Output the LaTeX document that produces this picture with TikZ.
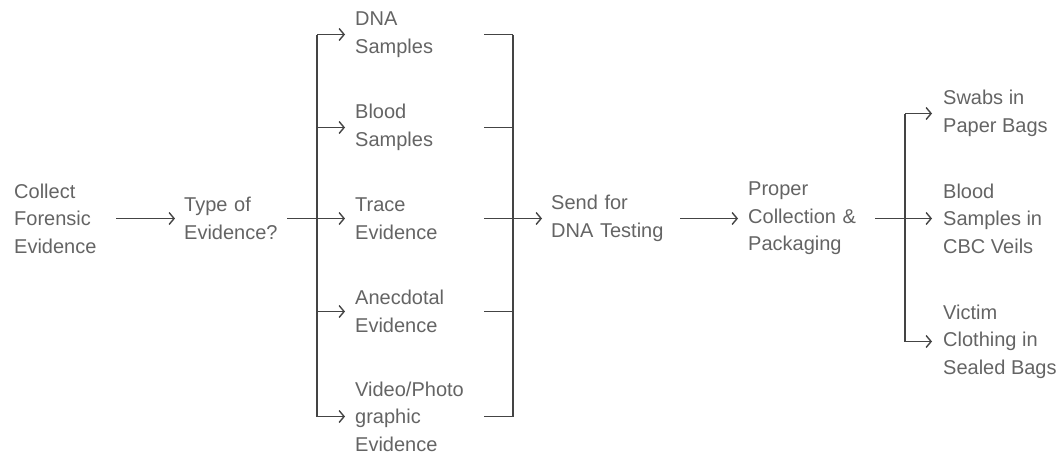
\documentclass[tikz,border=0pt]{standalone}
\usepackage{fontspec}
\setmainfont{Liberation Sans}
\usetikzlibrary{arrows.meta, positioning}
\definecolor{cText}{RGB}{100,100,100}
\definecolor{cLine}{RGB}{68,68,68}
\tikzset{
	txtbox/.style={anchor=west, align=left, inner sep=0pt, text=cText, font=\fontsize{20}{27.5}\selectfont},
	wire/.style={draw=cLine, line width=1.4pt},
	flowarrow/.style={wire, -{Straight Barb[length=5pt, width=12pt, line width=1.4pt]}},
}
\begin{document}
\begin{tikzpicture}[x=1pt, y=-1pt]
	\useasboundingbox (0,-1.5) rectangle (1059,454.5);
	% main chain
	\node[txtbox, text width=102pt] (collect) at (14,217) {Collect\\Forensic\\Evidence};
	\node[txtbox, text width=103pt] (type) at (184,217) {Type of\\Evidence?};
	% evidence kinds
	\node[txtbox, text width=129pt] (dna) at (355,33) {DNA\\Samples};
	\node[txtbox, text width=129pt] (blood) at (355,126) {Blood\\Samples};
	\node[txtbox, text width=129pt] (trace) at (355,217) {Trace\\Evidence};
	\node[txtbox, text width=129pt] (anec) at (355,310) {Anecdotal\\Evidence};
	\node[txtbox, text width=129pt] (video) at (355,415) {Video/Photo\\graphic\\Evidence};
	\node[txtbox, text width=129pt] (send) at (551,217) {Send for\\DNA Testing};
	\node[txtbox, text width=127pt] (proper) at (748,217) {Proper\\Collection \&\\Packaging};
	% packaging kinds
	\node[txtbox] (swabs) at (943,112) {Swabs in\\Paper Bags};
	\node[txtbox] (bloodbag) at (943,217) {Blood\\Samples in\\CBC Veils};
	\node[txtbox] (victim) at (943,340) {Victim\\Clothing in\\Sealed Bags};
	\coordinate (lb) at (317,217);
	\coordinate (rb) at (513,217);
	\coordinate (pb) at (905,217);

	\draw[flowarrow, shorten >=9pt] (collect.east) -- (type.west);
	\draw[wire] (type.east) -- (lb);
	\draw[wire] (lb |- dna) -- (lb |- video);
	\foreach \n in {dna,blood,trace,anec,video} {
		\draw[flowarrow, shorten >=10pt] (lb |- \n) -- (\n.west);
		\draw[wire] (\n.east) -- (rb |- \n);
	}
	\draw[wire] (rb |- dna) -- (rb |- video);
	\draw[flowarrow, shorten >=9pt] (trace.east) -- (send.west);
	\draw[flowarrow, shorten >=10pt] (send.east) -- (proper.west);
	\draw[wire] (pb |- swabs) -- (pb |- victim);
	\draw[flowarrow, shorten >=11pt] (proper.east) -- (bloodbag.west);
	\draw[flowarrow, shorten >=11pt] (pb |- swabs) -- (swabs.west);
	\draw[flowarrow, shorten >=11pt] (pb |- victim) -- (victim.west);
\end{tikzpicture}
\end{document}
